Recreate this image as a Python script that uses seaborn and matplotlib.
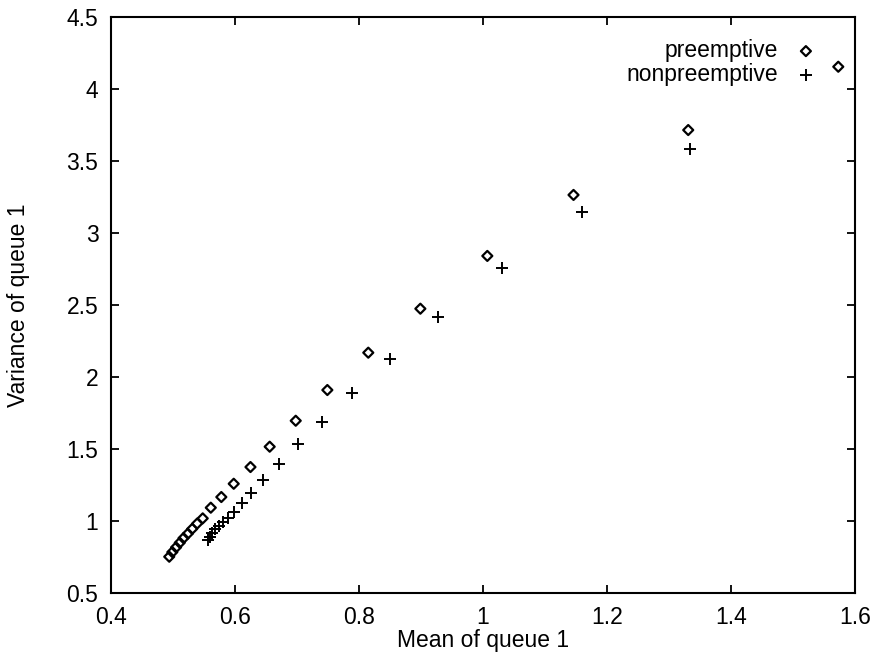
import matplotlib
matplotlib.use("Agg")
import matplotlib.pyplot as plt
from matplotlib.ticker import FuncFormatter, MultipleLocator
import seaborn as sns
import pandas as pd

pre_mean = [0.494, 0.499, 0.505, 0.511, 0.517, 0.524, 0.531, 0.539, 0.548, 0.561,
            0.578, 0.598, 0.625, 0.656, 0.698, 0.749, 0.815, 0.899, 1.007, 1.146,
            1.331, 1.573]
pre_var = [0.755, 0.787, 0.820, 0.852, 0.884, 0.915, 0.948, 0.985, 1.021, 1.095,
           1.169, 1.261, 1.377, 1.518, 1.698, 1.911, 2.170, 2.475, 2.841, 3.264,
           3.714, 4.153]
non_mean = [0.557, 0.559, 0.563, 0.568, 0.574, 0.581, 0.589, 0.599, 0.611, 0.626,
            0.645, 0.671, 0.701, 0.740, 0.789, 0.850, 0.928, 1.030, 1.160, 1.334]
non_var = [0.871, 0.895, 0.920, 0.945, 0.970, 0.995, 1.025, 1.067, 1.128, 1.197,
           1.287, 1.398, 1.537, 1.691, 1.891, 2.128, 2.420, 2.757, 3.144, 3.581]
series_names = ["preemptive", "nonpreemptive"]

sns.set_style("ticks")
plt.rcParams["font.family"] = ["Liberation Sans", "DejaVu Sans"]
plt.rcParams["text.color"] = "black"
plt.rcParams["axes.labelcolor"] = "black"

FS = 16.5

df_pre = pd.DataFrame({"mean": pre_mean, "var": pre_var})
df_non = pd.DataFrame({"mean": non_mean, "var": non_var})

fig = plt.figure(figsize=(8.73, 6.55), dpi=100)
ax = fig.add_axes([0.1271, 0.0939, 0.8523, 0.8806])

sns.scatterplot(data=df_pre, x="mean", y="var", ax=ax, marker="D", s=26,
                facecolors="none", edgecolors="black", linewidth=1.6,
                label=series_names[0])
sns.scatterplot(data=df_non, x="mean", y="var", ax=ax, marker="+", s=70,
                color="black", linewidth=1.4, label=series_names[1])

ax.set_xlim(0.4, 1.6)
ax.set_ylim(0.5, 4.5)
ax.xaxis.set_major_locator(MultipleLocator(0.2))
ax.yaxis.set_major_locator(MultipleLocator(0.5))
fmt = FuncFormatter(lambda v, p: "%g" % round(v, 2))
ax.xaxis.set_major_formatter(fmt)
ax.yaxis.set_major_formatter(fmt)
ax.tick_params(direction="in", top=True, right=True, length=6, width=1.3,
               labelsize=FS, colors="black", pad=9)
for s in ax.spines.values():
    s.set_linewidth(1.5)
    s.set_color("black")

ax.set_xlabel("Mean of queue 1", fontsize=FS, labelpad=0, color="black")
ax.set_ylabel("Variance of queue 1", fontsize=FS, labelpad=26, color="black")

leg = ax.legend(loc="upper right", bbox_to_anchor=(0.9617, 0.977),
                markerfirst=False, frameon=False, fontsize=FS,
                handletextpad=0.72, labelspacing=0.05, borderaxespad=0.0,
                borderpad=0.4, handlelength=1.0)
for t in leg.get_texts():
    t.set_color("black")

fig.savefig("out.png", dpi=100)
